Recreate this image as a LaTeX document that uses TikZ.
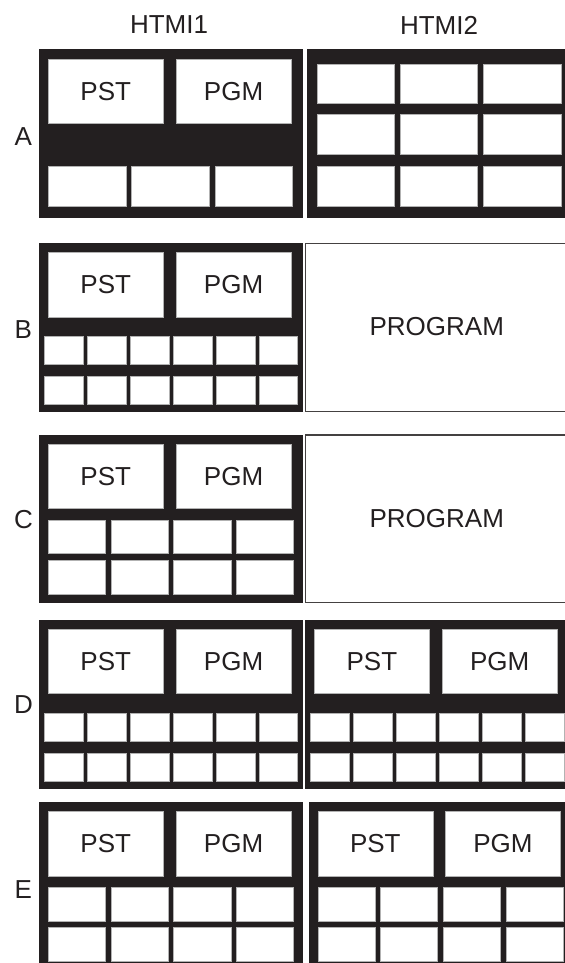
\documentclass[tikz,border=0pt]{standalone}
\usepackage{fontspec}
\setmainfont{Liberation Sans}
\definecolor{ink}{HTML}{231F20}

\begin{document}
\begin{tikzpicture}[x=0.5pt,y=-0.5pt,
  panel/.style={fill=ink},
  cell/.style={fill=white,draw=gray!60,line width=0.3pt},
  frame/.style={draw=ink!85,line width=0.7pt},
  lbl/.style={font=\fontsize{13}{15}\selectfont,text=ink}]
\useasboundingbox (0,0) rectangle (565,963);
\node[lbl] (htmi1) at (169,25) {HTMI1};
\node[lbl] (htmi2) at (439,25) {HTMI2};
% row labels
\node[lbl] (rowA) at (23.4,136.7) {A};
\node[lbl] (rowB) at (23.4,329.3) {B};
\node[lbl] (rowC) at (23.4,520) {C};
\node[lbl] (rowD) at (23.4,705) {D};
\node[lbl] (rowE) at (23.4,890) {E};
% left panels
\foreach \t/\b in {49.3/218.3, 243.3/412.3, 435/603.3, 620/789, 802.3/975}
  \fill[panel] (38.9,\t) rectangle (302.7,\b);
\foreach \t/\r in {59.3/A, 252.7/B, 444/C, 629.3/D, 811.7/E} {
  \draw[cell] (48.3,\t) rectangle (163.2,\t+64.3);
  \draw[cell] (175.9,\t) rectangle (291.2,\t+64.3);
  \node[lbl] (pst\r) at (105.75,\t+32.2) {PST};
  \node[lbl] (pgm\r) at (233.55,\t+32.2) {PGM};
}
% row A
\foreach \i in {0,1,2}
  \draw[cell] (48.3+\i*83.4,166) rectangle (125.9+\i*83.4,206);
\fill[panel] (307,49.3) rectangle (575,218.3);
\foreach \t in {64,114.5,166}
  \foreach \i in {0,1,2}
    \draw[cell] (317+\i*83.3,\t) rectangle (394.2+\i*83.3,\t+39.8);
% rows B and D, six columns
\foreach \t in {336.7,376.7,713.3,753.3}
  \foreach \i in {0,...,5}
    \draw[cell] (44.7+\i*42.9,\t) rectangle (83.2+\i*42.9,\t+27.5);
% rows C and E, four columns
\foreach \t in {520,560.7,887.7,927.7}
  \foreach \i in {0,...,3}
    \draw[cell] (48.3+\i*62.7,\t) rectangle (105.5+\i*62.7,\t+33.3);
% right panels B, C
\draw[frame] (305.6,243.3) rectangle (580,411.7);
\node[lbl] (progB) at (436.8,326.7) {PROGRAM};
\draw[frame] (305.6,435) rectangle (580,602.7);
\node[lbl] (progC) at (436.8,518.3) {PROGRAM};
% right panel D
\fill[panel] (304.9,620) rectangle (575,789);
\draw[cell] (314.2,629.3) rectangle (429.5,693.3);
\draw[cell] (442.2,629.3) rectangle (557.1,693.3);
\node[lbl] (pstDr) at (371.85,661.3) {PST};
\node[lbl] (pgmDr) at (499.65,661.3) {PGM};
\foreach \t in {713.3,753.3}
  \foreach \i in {0,...,5}
    \draw[cell] (310.6+\i*42.95,\t) rectangle (349.3+\i*42.95,\t+27.5);
% right panel E
\fill[panel] (308.8,802.3) rectangle (575,975);
\draw[cell] (317.8,811.7) rectangle (432.8,876);
\draw[cell] (445.4,811.7) rectangle (560.4,876);
\node[lbl] (pstEr) at (375.3,843.9) {PST};
\node[lbl] (pgmEr) at (502.9,843.9) {PGM};
\foreach \t in {887.7,927.7}
  \foreach \i in {0,...,3}
    \draw[cell] (317.8+\i*62.7,\t) rectangle (374.8+\i*62.7,\t+33.3);
\end{tikzpicture}
\end{document}
